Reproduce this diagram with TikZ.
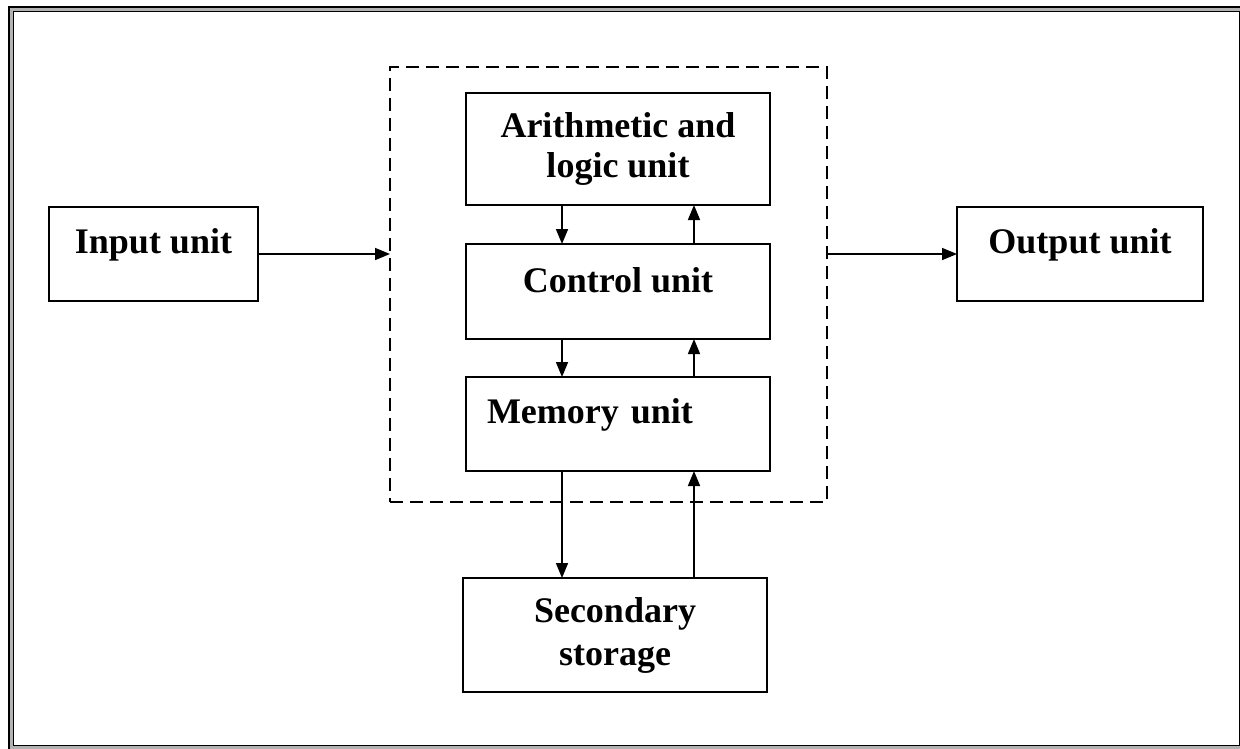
\documentclass[tikz,border=0pt]{standalone}
\usepackage{fontspec}
\setmainfont{Liberation Serif}
\usetikzlibrary{positioning,arrows.meta}

\begin{document}
\begin{tikzpicture}[x=1pt,y=-1pt,font=\bfseries\fontsize{36}{40}\selectfont,
  >={Triangle[length=15pt,width=12pt]},
  unit/.style={draw,line width=2pt,outer sep=0pt,inner sep=0pt,align=center},
  one/.style={text height=24pt,text depth=26pt},
  cpu/.style={draw,line width=1.8pt,dash pattern=on 13pt off 7pt,outer sep=0pt},
  link/.style={->,line width=1.6pt}]
  \useasboundingbox (0,0) rectangle (1240,748);
  \draw[line width=1.5pt,double=black!30,double distance=3pt] (11,9) rectangle (1241.5,747.5);
  \node[unit,one,minimum width=209pt,minimum height=94pt] (in) at (153.5,254) {Input unit};
  \node[unit,one,minimum width=246pt,minimum height=94pt] (out) at (1080,254) {Output unit};
  \node[unit,minimum width=304pt,minimum height=112pt] (alu) at (618,149) {Arithmetic and\\logic unit};
  \node[unit,text height=24pt,text depth=22pt,minimum width=304pt,minimum height=95pt,below=39pt of alu] (ctl) {Control unit};
  \node[unit,one,align=left,text width=262pt,inner xsep=21pt,minimum height=94pt,below=38pt of ctl] (mem) {Memory unit};
  \node[unit,minimum width=304pt,minimum height=114pt] (sec) at (615,635) {Secondary\\[3pt]storage};
  \node[cpu,minimum width=437pt,minimum height=435pt] (core) at (608.5,284.5) {};
  \coordinate (dn) at (562,0);
  \coordinate (up) at (694,0);
  % inside the processor
  \draw[link] (alu.south -| dn) -- (ctl.north -| dn);
  \draw[link] (ctl.north -| up) -- (alu.south -| up);
  \draw[link] (ctl.south -| dn) -- (mem.north -| dn);
  \draw[link] (mem.north -| up) -- (ctl.south -| up);
  \draw[link] (mem.south -| dn) -- (sec.north -| dn);
  \draw[link] (sec.north -| up) -- (mem.south -| up);
  % in and out
  \draw[link] (in.east) -- (core.west |- in.east);
  \draw[link] (core.east |- out.west) -- (out.west);
\end{tikzpicture}
\end{document}
